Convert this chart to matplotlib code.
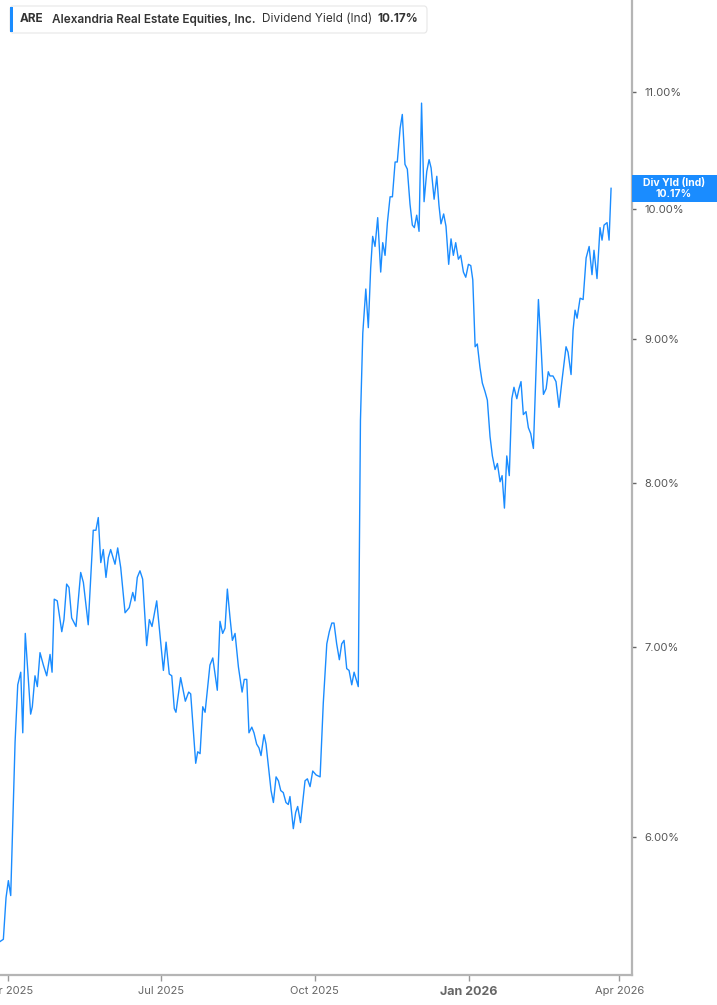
import matplotlib
matplotlib.use('Agg')
import matplotlib.pyplot as plt
from matplotlib.patches import Rectangle, FancyBboxPatch
from matplotlib.ticker import FixedLocator, FuncFormatter, NullLocator
import pandas as pd

# days since 2025-03-27 and the dividend yield (%)
day_offset = [
    0.0, 2.0, 3.6, 5.0, 6.4, 9.0, 10.6, 12.4, 13.6, 15.1, 18.3, 19.3, 20.9, 22.3, 23.9, 25.9, 27.9,
    29.9, 31.1, 32.4, 34.2, 36.9, 38.2, 39.8, 41.2, 42.8, 45.4, 48.2, 49.8, 52.7, 55.7, 57.3,
    58.7, 60.2, 61.7, 63.3, 64.7, 66.1, 68.7, 70.3, 72.1, 74.7, 77.2, 79.3, 80.6, 82.0, 83.6,
    85.2, 87.6, 89.2, 90.8, 93.6, 96.0, 97.6, 99.2, 101.1, 102.6, 104.1, 105.1, 107.9, 110.7,
    112.7, 113.9, 116.9, 118.1, 119.5, 121.1, 122.5, 125.4, 127.1, 129.8, 131.4, 133.0, 134.4,
    135.8, 137.4, 138.8, 140.4, 142.4, 144.6, 145.9, 147.4, 148.7, 150.4, 151.7, 153.3, 154.7,
    155.9, 157.7, 158.9, 161.9, 163.3, 164.9, 166.3, 167.7, 169.2, 170.8, 172.2, 173.2, 175.2,
    176.6, 177.8, 179.5, 182.2, 183.6, 185.2, 186.8, 188.8, 191.2, 193.1, 195.2, 196.7, 198.2,
    199.5, 201.1, 202.7, 204.1, 205.5, 207.1, 208.5, 210.1, 211.5, 214.0, 215.3, 216.7, 218.5,
    220.0, 221.4, 222.6, 224.0, 225.6, 227.4, 228.6, 230.0, 231.4, 233.0, 234.4, 236.0, 237.3,
    239.0, 240.3, 241.9, 243.3, 244.9, 246.3, 247.5, 248.9, 250.3, 251.8, 253.3, 254.9, 256.3,
    257.5, 259.3, 260.9, 262.2, 263.4, 265.0, 266.4, 268.0, 269.4, 270.8, 272.2, 273.8, 275.2,
    276.8, 278.2, 279.8, 281.2, 282.4, 283.8, 285.1, 286.7, 288.1, 289.7, 291.1, 292.7, 294.1,
    295.7, 297.1, 298.7, 299.9, 301.3, 302.7, 304.2, 305.7, 307.0, 308.7, 310.0, 311.2, 312.6,
    314.2, 315.6, 317.0, 318.6, 321.6, 323.2, 324.6, 326.2, 327.5, 328.5, 330.3, 332.1, 333.9,
    335.7, 338.1, 339.3, 341.1, 342.3, 343.5, 344.7, 346.5, 348.3, 350.1, 351.9, 353.6, 354.8,
    356.6, 358.4, 359.6, 360.8, 362.6, 363.8, 365.0,
]
div_yield = [
    5.51, 5.52, 5.71, 5.79, 5.72, 6.48, 6.79, 6.86, 6.53, 7.08, 6.63, 6.67, 6.84, 6.78, 6.97, 6.90, 6.84,
    6.96, 6.86, 7.28, 7.27, 7.09, 7.16, 7.37, 7.35, 7.17, 7.12, 7.44, 7.38, 7.13, 7.70, 7.70,
    7.78, 7.50, 7.58, 7.41, 7.53, 7.58, 7.49, 7.59, 7.47, 7.20, 7.23, 7.32, 7.27, 7.41, 7.45,
    7.40, 7.01, 7.16, 7.12, 7.27, 7.03, 6.87, 7.03, 6.85, 6.84, 6.66, 6.64, 6.83, 6.70,
    6.75, 6.74, 6.37, 6.43, 6.42, 6.67, 6.64, 6.90, 6.94, 6.76, 7.15, 7.08, 7.11,
    7.34, 7.17, 7.04, 7.08, 6.89, 6.75, 6.82, 6.82, 6.53, 6.56, 6.53, 6.47, 6.45,
    6.41, 6.52, 6.47, 6.23, 6.17, 6.30, 6.28, 6.23, 6.22, 6.17, 6.16, 6.20, 6.04,
    6.12, 6.15, 6.07, 6.28, 6.29, 6.25, 6.33, 6.31, 6.30, 6.69, 7.02, 7.09, 7.14,
    7.14, 7.02, 6.93, 7.02, 7.04, 6.88, 6.87, 6.79, 6.86, 6.78, 8.42, 9.04, 9.37,
    9.08, 9.53, 9.78, 9.70, 9.93, 9.50, 9.73, 9.63, 9.89, 10.10, 10.10, 10.39, 10.39,
    10.68, 10.80, 10.37, 10.33, 10.04, 9.87, 9.85, 9.95, 9.82, 10.90, 10.06, 10.31, 10.41,
    10.34, 10.08, 10.27, 10.03, 9.88, 9.96, 9.86, 9.56, 9.76, 9.63, 9.73, 9.60, 9.63,
    9.50, 9.46, 9.56, 9.55, 9.44, 8.94, 8.96, 8.79, 8.68, 8.62, 8.56, 8.31, 8.18,
    8.09, 8.13, 8.01, 8.05, 7.84, 8.18, 8.05, 8.57, 8.65, 8.57, 8.64, 8.69, 8.46,
    8.48, 8.37, 8.33, 8.23, 9.29, 8.94, 8.60, 8.64, 8.76, 8.73, 8.73, 8.69, 8.51,
    8.70, 8.94, 8.90, 8.74, 9.06, 9.21, 9.15, 9.30, 9.29, 9.61, 9.70, 9.48, 9.67,
    9.45, 9.85, 9.75, 9.87, 9.89, 9.75, 10.17,
]

y_ticks = [6, 7, 8, 9, 10, 11]
x_tick_dates = ['2025-04-01', '2025-07-01', '2025-10-01', '2026-01-01', '2026-04-01']
x_tick_labels = ['Apr 2025', 'Jul 2025', 'Oct 2025', 'Jan 2026', 'Apr 2026']

ticker = 'ARE'
company = 'Alexandria Real Estate Equities, Inc.'
metric = 'Dividend Yield (Ind)'
last_value = '10.17%'

LINE = '#1a8cff'
plt.rcParams['font.family'] = ['Inter', 'DejaVu Sans']

W, H = 717, 1005
start = pd.Timestamp('2025-03-27')
dates = start + pd.to_timedelta(day_offset, unit='D')

fig = plt.figure(figsize=(W / 100, H / 100), dpi=100)
ax = fig.add_axes([0, 30 / H, 632 / W, 975 / H])

ax.plot(dates, div_yield, color=LINE, lw=1.0)

ax.set_yscale('log')
ax.set_ylim(5.362, 11.854)
ax.set_xlim(start, start + pd.Timedelta(days=377.5))

# y axis on the right
ax.yaxis.tick_right()
ax.yaxis.set_major_locator(FixedLocator(y_ticks))
ax.yaxis.set_minor_locator(NullLocator())
ax.yaxis.set_major_formatter(FuncFormatter(lambda v, p: f'{v:.2f}%'))
ax.tick_params(axis='y', length=3, width=1, color='#666666', labelsize=8,
               labelcolor='#555555', pad=6)

ax.set_xticks(pd.to_datetime(x_tick_dates))
ax.set_xticklabels(x_tick_labels)
ax.tick_params(axis='x', length=4, width=1, color='#999999', labelsize=8,
               labelcolor='#666666', pad=4)
for lbl in ax.get_xticklabels():
    if lbl.get_text().startswith('Jan'):
        lbl.set_fontweight('bold')
        lbl.set_fontsize(9)

for side in ['top', 'left']:
    ax.spines[side].set_visible(False)
for side in ['right', 'bottom']:
    ax.spines[side].set_color('#b5b5b5')
    ax.spines[side].set_linewidth(1.6)


def fx(px):
    return px / W


def fy(py):
    return 1 - py / H


# legend box at the top left
fig.patches.append(FancyBboxPatch((fx(10), fy(33)), fx(417), 27 / H,
                                  boxstyle='round,pad=0,rounding_size=0.004',
                                  transform=fig.transFigure, facecolor='white',
                                  edgecolor='#e6e6e6', lw=0.8, zorder=5))
fig.patches.append(Rectangle((fx(10), fy(32)), fx(3), 25 / H, transform=fig.transFigure,
                             facecolor=LINE, edgecolor='none', zorder=6))
ty = fy(19.5)
fig.text(fx(20), ty, ticker, fontsize=8.5, fontweight='bold', color='#333333', va='center', zorder=7)
fig.text(fx(52), ty, company, fontsize=8.5, fontweight='semibold', color='#333333', va='center', zorder=7)
fig.text(fx(262), ty, metric, fontsize=8.5, color='#333333', va='center', zorder=7)
fig.text(fx(377), ty, last_value, fontsize=8.5, fontweight='bold', color='#333333', va='center', zorder=7)

# last value flag on the right axis
fig.patches.append(Rectangle((fx(632), fy(202)), fx(85), 27 / H, transform=fig.transFigure,
                             facecolor=LINE, edgecolor='none', zorder=5))
fig.text(fx(674), fy(183), 'Div Yld (Ind)', fontsize=7.5, fontweight='bold', color='white',
         ha='center', va='center', zorder=6)
fig.text(fx(674), fy(194), last_value, fontsize=7.5, fontweight='bold', color='white',
         ha='center', va='center', zorder=6)

fig.savefig('out.png', dpi=100)
